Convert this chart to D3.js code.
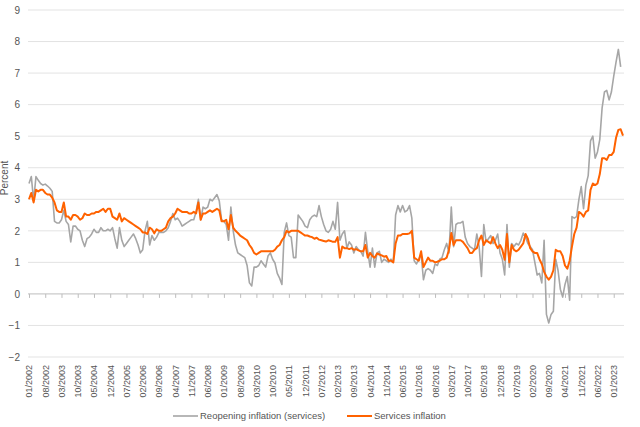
<!DOCTYPE html>
<html>
<head>
<meta charset="utf-8">
<script src="https://cdn.jsdelivr.net/npm/d3@7"></script>
<style>
  body { margin: 0; background: #fff; }
  text { font-family: "Liberation Sans", Arial, sans-serif; fill: #555; }
</style>
</head>
<body>
<script>
// monthly data, starting 01/2002
var startYear = 2002;

var reopening = [].concat(
    [3.5, 3.72, 2.95, 3.72, 3.6, 3.5, 3.45, 3.48, 3.42, 3.35, 3.25, 2.3],   // 2002
    [2.25, 2.25, 2.35, 2.65, 2.3, 2.2, 1.65, 2.15, 2.15, 2.05, 2.0, 1.7],   // 2003
    [1.5, 1.75, 1.8, 1.9, 2.05, 1.95, 1.95, 2.1, 2.0, 2.0, 2.05, 2.0],      // 2004
    [2.1, 1.75, 1.45, 2.1, 1.7, 1.5, 1.6, 1.7, 1.8, 1.9, 1.75, 1.55],       // 2005
    [1.3, 1.4, 2.0, 2.3, 1.55, 1.85, 1.7, 1.8, 1.95, 1.95, 1.95, 2.0],      // 2006
    [2.1, 2.3, 2.55, 2.35, 2.4, 2.3, 2.15, 2.2, 2.25, 2.3, 2.35, 2.35],     // 2007
    [2.6, 3.0, 2.35, 2.75, 2.7, 2.75, 3.0, 2.95, 3.05, 3.15, 2.95, 2.35],   // 2008
    [2.3, 2.2, 1.7, 2.75, 2.0, 1.55, 1.3, 1.25, 1.2, 1.15, 0.9, 0.35],      // 2009
    [0.25, 0.85, 0.85, 0.9, 1.05, 0.95, 0.85, 1.2, 1.3, 1.1, 0.98, 0.65],   // 2010
    [0.5, 0.3, 1.95, 2.25, 1.85, 1.8, 1.15, 1.15, 2.5, 2.4, 2.3, 2.15],     // 2011
    [2.1, 2.35, 2.45, 2.5, 2.45, 2.8, 2.45, 2.2, 2.0, 1.95, 2.05, 2.3],     // 2012
    [2.05, 2.9, 1.7, 1.9, 2.0, 1.45, 1.65, 1.55, 1.3, 1.5, 1.4, 1.35],      // 2013
    [1.2, 1.95, 1.35, 0.85, 1.45, 0.85, 1.3, 1.35, 1.0, 1.1, 1.05, 1.0],    // 2014
    [1.1, 1.0, 2.5, 2.8, 2.6, 2.8, 2.6, 2.65, 2.8, 2.4, 1.05, 0.95],        // 2015
    [1.1, 1.25, 0.45, 0.75, 0.8, 0.75, 0.65, 0.95, 0.9, 1.1, 1.15, 1.4],    // 2016
    [1.6, 1.3, 2.75, 1.5, 2.2, 2.25, 2.25, 2.3, 1.8, 1.6, 1.5, 1.45],       // 2017
    [1.4, 1.9, 1.5, 0.55, 2.2, 1.65, 1.75, 1.85, 1.6, 1.7, 1.9, 1.3],       // 2018
    [1.1, 0.6, 2.2, 0.85, 1.6, 1.5, 1.6, 1.55, 1.7, 1.93, 1.8, 1.6],        // 2019
    [1.5, 1.4, 1.0, 0.6, 0.65, 0.35, 1.7, -0.65, -0.92, -0.65, -0.55, 1.1], // 2020
    [0.75, 0.15, -0.1, 0.3, 0.55, -0.2, 2.45, 2.4, 2.45, 3.0, 3.4, 2.7],    // 2021
    [3.45, 3.75, 4.85, 5.0, 4.3, 4.5, 4.9, 5.9, 6.4, 6.45, 6.15, 6.4],      // 2022
    [6.9, 7.35, 7.75, 7.2]                                                  // 2023
);

var services = [].concat(
    [3.0, 3.2, 2.9, 3.3, 3.25, 3.3, 3.3, 3.2, 3.15, 3.15, 3.05, 2.9],       // 2002
    [2.65, 2.6, 2.6, 2.9, 2.45, 2.45, 2.35, 2.5, 2.5, 2.45, 2.35, 2.4],     // 2003
    [2.55, 2.5, 2.5, 2.55, 2.55, 2.6, 2.6, 2.65, 2.7, 2.6, 2.7, 2.7],       // 2004
    [2.45, 2.4, 2.35, 2.55, 2.3, 2.4, 2.35, 2.3, 2.25, 2.2, 2.15, 2.1],     // 2005
    [2.05, 1.95, 1.95, 1.9, 2.1, 2.05, 1.92, 2.05, 2.0, 2.0, 2.05, 2.1],    // 2006
    [2.3, 2.4, 2.45, 2.55, 2.7, 2.65, 2.6, 2.6, 2.6, 2.55, 2.55, 2.6],      // 2007
    [2.55, 2.9, 2.35, 2.55, 2.55, 2.6, 2.65, 2.6, 2.65, 2.7, 2.65, 2.3],    // 2008
    [2.3, 2.35, 2.05, 2.5, 2.1, 2.0, 1.93, 1.85, 1.8, 1.75, 1.7, 1.55],     // 2009
    [1.45, 1.3, 1.25, 1.3, 1.35, 1.35, 1.35, 1.35, 1.35, 1.35, 1.4, 1.5],   // 2010
    [1.55, 1.7, 1.8, 2.0, 1.95, 2.0, 2.0, 2.0, 2.0, 1.95, 1.9, 1.85],       // 2011
    [1.85, 1.82, 1.8, 1.75, 1.78, 1.72, 1.7, 1.68, 1.66, 1.7, 1.68, 1.65],  // 2012
    [1.65, 1.8, 1.15, 1.5, 1.45, 1.45, 1.42, 1.45, 1.4, 1.42, 1.38, 1.35],  // 2013
    [1.35, 1.55, 1.15, 1.3, 1.2, 1.15, 1.28, 1.25, 1.22, 1.18, 1.2, 1.05],  // 2014
    [1.05, 1.0, 1.6, 1.85, 1.85, 1.9, 1.9, 1.9, 1.92, 2.0, 1.15, 1.1],      // 2015
    [1.05, 1.35, 0.85, 1.0, 1.15, 1.05, 1.05, 1.0, 1.02, 1.05, 1.1, 1.1],   // 2016
    [1.15, 1.4, 1.93, 1.55, 1.7, 1.7, 1.7, 1.65, 1.55, 1.45, 1.3, 1.3],     // 2017
    [1.4, 1.45, 1.7, 1.85, 1.55, 1.7, 1.65, 1.6, 1.8, 1.6, 1.45, 1.55],     // 2018
    [1.4, 1.08, 1.9, 1.0, 1.55, 1.4, 1.35, 1.4, 1.5, 1.6, 1.9, 1.75],       // 2019
    [1.45, 1.35, 1.3, 1.3, 1.1, 0.95, 0.7, 0.55, 0.45, 0.55, 0.75, 1.4],    // 2020
    [1.35, 1.35, 1.2, 0.9, 0.8, 1.05, 1.5, 1.9, 2.1, 2.6, 2.55, 2.45],      // 2021
    [2.6, 2.65, 3.3, 3.5, 3.45, 3.5, 3.8, 4.3, 4.3, 4.25, 4.4, 4.4],        // 2022
    [4.5, 4.95, 5.2, 5.22, 5.02]                                            // 2023
);

var yTicks = [-2, -1, 0, 1, 2, 3, 4, 5, 6, 7, 8, 9];
var labelStep = 7;   // a category label every 7 months
var seriesNames = ["Reopening inflation (services)", "Services inflation"];
var seriesColors = ["#a6a6a6", "#ff6200"];

var W = 640, H = 427;
var nMonths = services.length;

function monthLabel(i) {
    var m = i % 12 + 1;
    return (m < 10 ? "0" + m : m) + "/" + (startYear + Math.floor(i / 12));
}

var svg = d3.select("body").append("svg")
    .attr("width", W)
    .attr("height", H);

var x = d3.scaleLinear()
    .domain([0, nMonths - 1])
    .range([29, 623]);

var y = d3.scaleLinear()
    .domain([-2, 9])
    .range([357, 10]);

// horizontal grid
svg.selectAll("line.grid")
    .data(yTicks.filter(function (d) { return d !== 0; }))
    .enter()
    .append("line")
    .attr("class", "grid")
    .attr("x1", 28)
    .attr("x2", 624)
    .attr("y1", function (d) { return y(d); })
    .attr("y2", function (d) { return y(d); })
    .attr("stroke", "#e3e3e3")
    .attr("stroke-width", 1);

// y labels
var yAxis = svg.append("g")
    .attr("transform", "translate(20,0)")
    .call(d3.axisLeft(y).tickValues(yTicks).tickSize(0).tickPadding(0));
yAxis.select(".domain").remove();
yAxis.selectAll("text")
    .attr("font-size", 10)
    .style("fill", "#555")
    .style("font-family", "Liberation Sans, Arial, sans-serif");

// category axis on the zero line, ticks only
var tickIdx = d3.range(0, nMonths, labelStep);
var zeroAxis = svg.append("g")
    .attr("transform", "translate(0," + y(0) + ")")
    .call(d3.axisBottom(x).tickValues(tickIdx).tickSize(4).tickFormat(""));
zeroAxis.select(".domain")
    .attr("d", "M28,0H624")
    .attr("stroke", "#bdbdbd");
zeroAxis.selectAll(".tick line").attr("stroke", "#bdbdbd");

// category labels at the bottom
var labAxis = svg.append("g")
    .attr("transform", "translate(0,365)")
    .call(d3.axisBottom(x).tickValues(tickIdx).tickSize(0).tickFormat(monthLabel));
labAxis.select(".domain").remove();
labAxis.selectAll("text")
    .attr("transform", "rotate(-90)")
    .attr("text-anchor", "end")
    .attr("x", 0)
    .attr("y", 0)
    .attr("dy", "0.33em")
    .attr("font-size", 9)
    .style("fill", "#555")
    .style("font-family", "Liberation Sans, Arial, sans-serif");

// axis title
svg.append("text")
    .attr("transform", "translate(8,178) rotate(-90)")
    .attr("text-anchor", "middle")
    .attr("font-size", 10)
    .text("Percent");

// lines
var line = d3.line()
    .x(function (d, i) { return x(i); })
    .y(function (d) { return y(d); });

svg.append("path")
    .datum(reopening)
    .attr("d", line)
    .attr("fill", "none")
    .attr("stroke", seriesColors[0])
    .attr("stroke-width", 1.6)
    .attr("stroke-linejoin", "round");

svg.append("path")
    .datum(services)
    .attr("d", line)
    .attr("fill", "none")
    .attr("stroke", seriesColors[1])
    .attr("stroke-width", 2)
    .attr("stroke-linejoin", "round");

// legend
var legendX = [173, 347];
seriesNames.forEach(function (name, k) {
    var g = svg.append("g").attr("transform", "translate(" + legendX[k] + ",416)");
    g.append("line")
        .attr("x1", 0).attr("x2", 25)
        .attr("y1", 0).attr("y2", 0)
        .attr("stroke", seriesColors[k])
        .attr("stroke-width", k == 1 ? 2 : 1.6);
    g.append("text")
        .attr("x", 27)
        .attr("dy", "0.35em")
        .attr("font-size", 9.5)
        .text(name);
});
</script>
</body>
</html>
